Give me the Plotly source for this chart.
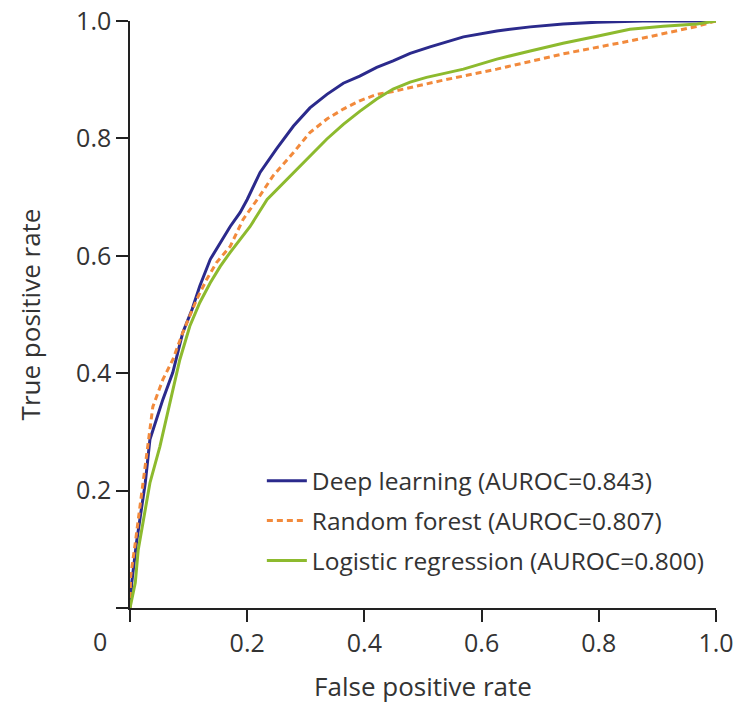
import plotly.graph_objects as go

# ROC curve points
dl_fpr = [0, 0.003, 0.011, 0.026, 0.034, 0.046, 0.056, 0.073, 0.09, 0.106, 0.119, 0.137, 0.154, 0.171,
          0.188, 0.2, 0.222, 0.25, 0.279, 0.307, 0.336, 0.364, 0.392, 0.421, 0.449, 0.478, 0.512, 0.569,
          0.626, 0.683, 0.739, 0.797, 0.875, 1.0]
dl_tpr = [0, 0.043, 0.111, 0.213, 0.287, 0.326, 0.355, 0.401, 0.469, 0.509, 0.548, 0.594, 0.623, 0.65,
          0.674, 0.696, 0.742, 0.782, 0.821, 0.852, 0.875, 0.894, 0.906, 0.921, 0.932, 0.945, 0.956, 0.973,
          0.983, 0.99, 0.995, 0.998, 1.0, 1.0]

rf_fpr = [0, 0.001, 0.009, 0.022, 0.039, 0.056, 0.073, 0.09, 0.114, 0.131, 0.148, 0.171, 0.193, 0.22,
          0.244, 0.279, 0.307, 0.336, 0.364, 0.392, 0.421, 0.449, 0.478, 0.529, 0.626, 0.739, 0.853, 0.968, 1.0]
rf_tpr = [0, 0.053, 0.111, 0.213, 0.343, 0.389, 0.423, 0.469, 0.526, 0.56, 0.589, 0.616, 0.662, 0.70,
          0.736, 0.776, 0.81, 0.833, 0.85, 0.864, 0.875, 0.88, 0.887, 0.898, 0.918, 0.944, 0.966, 0.991, 1.0]

lr_fpr = [0, 0.009, 0.014, 0.034, 0.051, 0.063, 0.073, 0.085, 0.102, 0.119, 0.137, 0.154, 0.171, 0.188,
          0.205, 0.234, 0.273, 0.307, 0.336, 0.364, 0.392, 0.421, 0.449, 0.478, 0.506, 0.569, 0.626, 0.683,
          0.739, 0.797, 0.853, 0.91, 0.968, 1.0]
lr_tpr = [0, 0.043, 0.099, 0.213, 0.275, 0.326, 0.367, 0.423, 0.48, 0.52, 0.554, 0.582, 0.606, 0.628,
          0.65, 0.696, 0.736, 0.77, 0.799, 0.824, 0.846, 0.867, 0.884, 0.896, 0.904, 0.918, 0.935, 0.949,
          0.962, 0.974, 0.986, 0.991, 0.995, 1.0]

names = ["Deep learning (AUROC=0.843)", "Random forest (AUROC=0.807)", "Logistic regression (AUROC=0.800)"]
tick_vals = [0, 0.2, 0.4, 0.6, 0.8, 1.0]
x_tick_text = ["", "0.2", "0.4", "0.6", "0.8", "1.0"]
y_tick_text = ["", "0.2", "0.4", "0.6", "0.8", "1.0"]

FONT = "Open Sans, Roboto, sans-serif"
TXT = "#333333"

fig = go.Figure()
fig.add_trace(go.Scatter(x=dl_fpr, y=dl_tpr, mode="lines", name=names[0], legendgroup="a",
                         line=dict(color="#2b2a8c", width=3)))
fig.add_trace(go.Scatter(x=rf_fpr, y=rf_tpr, mode="lines", name=names[1], legendgroup="b",
                         line=dict(color="#f28a3c", width=3, dash="6px,4px")))
fig.add_trace(go.Scatter(x=lr_fpr, y=lr_tpr, mode="lines", name=names[2], legendgroup="c",
                         line=dict(color="#8dba2e", width=3)))

axis_common = dict(range=[0, 1], showgrid=False, zeroline=False, showline=True, linecolor="#222222",
                   linewidth=1.5, ticks="outside", ticklen=12, tickwidth=1.5, tickcolor="#222222",
                   tickvals=tick_vals, automargin=False, ticklabeloverflow="allow",
                   tickfont=dict(family=FONT, size=25, color=TXT))

fig.update_layout(
    width=736, height=705,
    margin=dict(l=130, r=20, t=21, b=97),
    paper_bgcolor="white", plot_bgcolor="white",
    xaxis=dict(**axis_common, ticktext=x_tick_text,
               title=dict(text="False positive rate", font=dict(family=FONT, size=26, color=TXT), standoff=20)),
    yaxis=dict(**axis_common, ticktext=y_tick_text,
               title=dict(text="True positive rate", font=dict(family=FONT, size=26, color=TXT), standoff=28)),
    legend=dict(x=0.225, y=0.255, xanchor="left", yanchor="top", traceorder="grouped", tracegroupgap=5,
                font=dict(family=FONT, size=24.5, color=TXT), bgcolor="rgba(0,0,0,0)", itemwidth=40),
    showlegend=True,
)

fig.add_annotation(text="0", xref="paper", yref="paper", x=-0.051, y=-0.056, showarrow=False,
                   xanchor="center", yanchor="middle", font=dict(family=FONT, size=25, color=TXT))
fig.add_shape(type="line", xref="paper", yref="paper", x0=-0.022, x1=0, y0=0, y1=0,
              line=dict(color="#222222", width=1.5))

# remove the browser's default 8px body margin so the figure fills the window exactly
fig.write_html("out.html", config={"displayModeBar": False},
               post_script="document.body.style.margin='0';document.body.style.overflow='hidden';")
